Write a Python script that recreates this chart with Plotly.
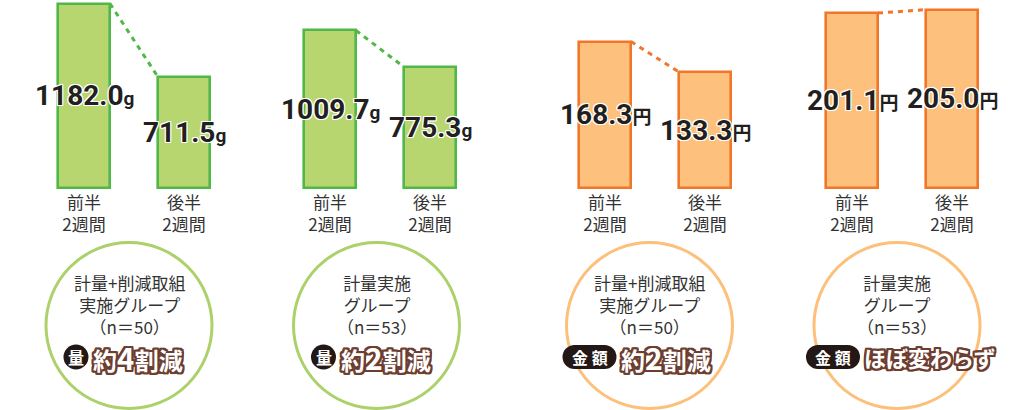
import plotly.graph_objects as go

# ---------------- data ----------------
periods = ["前半<br>2週間", "後半<br>2週間"]
amount_reduce = [1182.0, 711.5]     # 計量+削減取組 (g)
amount_measure = [1009.7, 775.3]    # 計量実施 (g)
cost_reduce = [168.3, 133.3]        # 計量+削減取組 (円)
cost_measure = [201.1, 205.0]       # 計量実施 (円)
units = ["g", "g", "円", "円"]
group_labels = [
    "計量+削減取組<br>実施グループ<br>（n＝50）",
    "計量実施<br>グループ<br>（n＝53）",
    "計量+削減取組<br>実施グループ<br>（n＝50）",
    "計量実施<br>グループ<br>（n＝53）",
]
badges = ["量", "量", "金 額", "金 額"]
results = [
    "約<span style='font-size:30px'>4</span>割減",
    "約<span style='font-size:30px'>2</span>割減",
    "約<span style='font-size:30px'>2</span>割減",
    "<span style='font-size:22px'>ほぼ変わらず</span>",
]
series = [amount_reduce, amount_measure, cost_reduce, cost_measure]

# ---------------- style ----------------
W, H = 1016, 410
GREEN_FILL, GREEN_LINE, GREEN_CIRCLE = "#b7d66f", "#50b848", "#acd16a"
ORANGE_FILL, ORANGE_LINE, ORANGE_CIRCLE = "#fdc17d", "#f2762a", "#fcc07a"
BROWN = "#6d3e30"
fills = [GREEN_FILL, GREEN_FILL, ORANGE_FILL, ORANGE_FILL]
lines = [GREEN_LINE, GREEN_LINE, ORANGE_LINE, ORANGE_LINE]
circles = [GREEN_CIRCLE, GREEN_CIRCLE, ORANGE_CIRCLE, ORANGE_CIRCLE]
px_per_unit = [0.156, 0.156, 0.87, 0.87]
panel_left_px = [34, 280, 555, 802]      # x-axis domain start (200px wide)
circle_cx = [129, 376.5, 649.5, 897]
circle_cy, circle_r = 325.5, 83
BASE_PX, PLOT_BOTTOM_PX = 188, 191
BAR_W = 0.52

def px(x):
    return x / W

def py(y):
    return 1 - y / H

white_halo = ", ".join(f"{a}px {b}px 0 #ffffff" for a in (-1, 0, 1) for b in (-1, 0, 1) if a or b)
brown_outline = ", ".join(f"{a}px {b}px 0 {BROWN}" for a in (-2, -1, 0, 1, 2) for b in (-2, -1, 0, 1, 2) if a or b)

fig = go.Figure()
annotations, shapes = [], []

def note(**kw):
    base = dict(xref="paper", yref="paper", showarrow=False, xanchor="center",
                yanchor="middle", borderpad=0)
    base.update(kw)
    annotations.append(base)

for i, vals in enumerate(series):
    ax = "" if i == 0 else str(i + 1)
    xr, yr = "x" + ax, "y" + ax
    fig.add_trace(go.Bar(
        x=[0, 1], y=vals, width=BAR_W,
        marker=dict(color=fills[i], line=dict(color=lines[i], width=2.6)),
        xaxis=xr, yaxis=yr, hoverinfo="skip", showlegend=False,
    ))
    fig.add_trace(go.Scatter(
        x=[BAR_W / 2, 1 - BAR_W / 2], y=vals, mode="lines",
        line=dict(color=lines[i], width=3, dash="5px,5px"),
        xaxis=xr, yaxis=yr, hoverinfo="skip", showlegend=False,
    ))
    k = px_per_unit[i]
    fig.layout["xaxis" + ax] = dict(
        domain=[px(panel_left_px[i]), px(panel_left_px[i] + 200)],
        range=[-0.5, 1.5], tickvals=[0, 1], ticktext=periods,
        showgrid=False, zeroline=False, showline=False, ticks="",
        tickfont=dict(family="Noto Sans CJK JP", size=17, color="#333333"),
        anchor=yr, fixedrange=True,
    )
    fig.layout["yaxis" + ax] = dict(
        domain=[py(PLOT_BOTTOM_PX), 1],
        range=[-(PLOT_BOTTOM_PX - BASE_PX) / k, BASE_PX / k],
        visible=False, anchor=xr, fixedrange=True,
    )
    # value labels
    for j, v in enumerate(vals):
        note(x=j, y=v / 2, xref=xr, yref=yr,
             text=f"<b>{v:.1f}</b><span style='font-size:19px'><b>{units[i]}</b></span>",
             font=dict(family="Roboto, Noto Sans CJK JP", size=28, color="#231f20", shadow=white_halo))
    # circle
    cx = circle_cx[i]
    shapes.append(dict(
        type="circle", xref="paper", yref="paper",
        x0=px(cx - circle_r), x1=px(cx + circle_r),
        y0=py(circle_cy + circle_r), y1=py(circle_cy - circle_r),
        line=dict(color=circles[i], width=3), fillcolor="rgba(0,0,0,0)", layer="below",
    ))
    note(x=px(cx), y=py(304), text=group_labels[i], align="center",
         font=dict(family="Noto Sans CJK JP", size=17, color="#333333"))
    # badge
    by = 357
    if len(badges[i]) == 1:
        bx = cx - 53
        shapes.append(dict(type="circle", xref="paper", yref="paper",
                           x0=px(bx - 12.5), x1=px(bx + 12.5), y0=py(by + 12.5), y1=py(by - 12.5),
                           fillcolor="#231815", line=dict(width=0)))
        text_left = cx - 37
        bcx = bx
    else:
        x0b = cx - 91 if i == 3 else cx - 87
        x1b = x0b + 54
        r = 12
        shapes.append(dict(type="rect", xref="paper", yref="paper",
                           x0=px(x0b + r), x1=px(x1b - r), y0=py(by + r), y1=py(by - r),
                           fillcolor="#231815", line=dict(width=0)))
        for c in (x0b + r, x1b - r):
            shapes.append(dict(type="circle", xref="paper", yref="paper",
                               x0=px(c - r), x1=px(c + r), y0=py(by + r), y1=py(by - r),
                               fillcolor="#231815", line=dict(width=0)))
        text_left = x1b + 3
        bcx = (x0b + x1b) / 2
    note(x=px(bcx), y=py(by), text=f"<b>{badges[i]}</b>",
         font=dict(family="Noto Sans CJK JP", size=16, color="#ffffff"))
    note(x=px(text_left), y=py(by), xanchor="left", text=f"<b>{results[i]}</b>",
         font=dict(family="Noto Sans CJK JP", size=24, color="#ffffff", shadow=brown_outline))

fig.update_layout(
    width=W, height=H, margin=dict(l=0, r=0, t=0, b=0),
    paper_bgcolor="#ffffff", plot_bgcolor="rgba(0,0,0,0)",
    annotations=annotations, shapes=shapes, bargap=0,
)
fig.write_html("out.html", config={"displayModeBar": False})
